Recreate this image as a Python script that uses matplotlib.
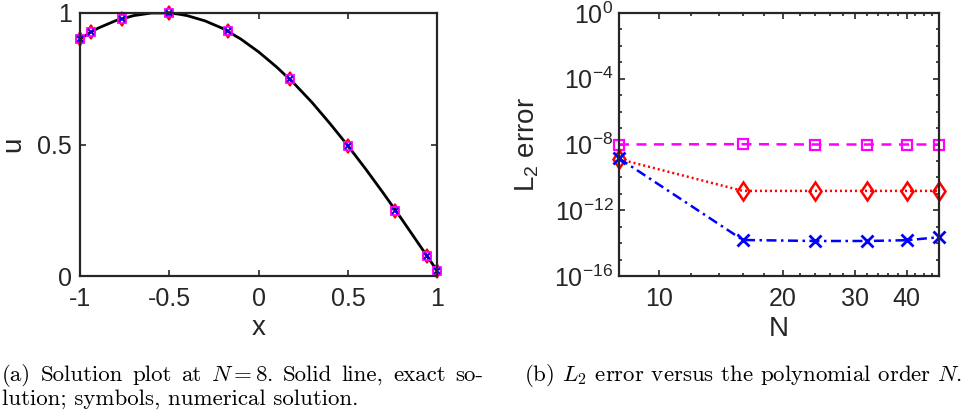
import matplotlib
matplotlib.use('Agg')
import matplotlib.pyplot as plt
from matplotlib.ticker import FixedLocator, NullFormatter

plt.rcParams['font.family'] = ['Liberation Sans', 'DejaVu Sans']

# exact solution
x_exact = [-1.0, -0.95, -0.9, -0.8, -0.7, -0.6, -0.55, -0.5, -0.45, -0.4, -0.3,
           -0.2, -0.1, 0.0, 0.1, 0.2, 0.3, 0.4, 0.5, 0.6, 0.7, 0.8, 0.9, 1.0]
u_exact = [0.900, 0.923, 0.942, 0.971, 0.990, 1.000, 1.000, 1.000, 0.996, 0.990, 0.970,
           0.941, 0.901, 0.852, 0.795, 0.731, 0.659, 0.579, 0.495, 0.406, 0.313, 0.217,
           0.118, 0.019]

# numerical solution at the nodes
x_nodes = [-1.0, -0.94, -0.766, -0.5, -0.174, 0.174, 0.5, 0.766, 0.94, 1.0]
u_nodes = [0.901, 0.928, 0.977, 1.000, 0.930, 0.749, 0.495, 0.249, 0.077, 0.019]

# L2 error vs N
N_vals = [8, 16, 24, 32, 40, 48]
err_sq = [1.0e-8, 1.05e-8, 1.0e-8, 1.0e-8, 1.0e-8, 1.0e-8]
err_dm = [1.3e-9, 1.5e-11, 1.5e-11, 1.5e-11, 1.5e-11, 1.5e-11]
err_x = [1.45e-9, 1.55e-14, 1.35e-14, 1.35e-14, 1.5e-14, 2.3e-14]

W, H = 963, 413
fig = plt.figure(figsize=(W / 100, H / 100), dpi=100)
axc = '#262626'

ax1 = fig.add_axes([80 / W, 1 - 276 / H, 357.3 / W, 263 / H])
ax2 = fig.add_axes([619 / W, 1 - 276 / H, 320.3 / W, 263 / H])

# (a) solution
ax1.plot(x_exact, u_exact, color='k', lw=2)
ax1.plot(x_nodes, u_nodes, 'd', ms=7.5, mfc='none', mec='r', mew=1.3, clip_on=False)
ax1.plot(x_nodes, u_nodes, 's', ms=6, mfc='none', mec='#ff00ff', mew=1.3, clip_on=False)
ax1.plot(x_nodes, u_nodes, 'x', ms=5, mec='b', mew=1.3, clip_on=False)
ax1.set_xlim(-1, 1)
ax1.set_ylim(0, 1)
ax1.set_xticks([-1, -0.5, 0, 0.5, 1])
ax1.set_xticklabels(['-1', '-0.5', '0', '0.5', '1'])
ax1.set_yticks([0, 0.5, 1])
ax1.set_yticklabels(['0', '0.5', '1'])
ax1.set_xlabel('x', fontsize=20, color=axc)
ax1.set_ylabel('u', fontsize=20, color=axc)
ax1.xaxis.label.set_va('center')
ax1.yaxis.label.set_va('center')
ax1.xaxis.set_label_coords(0.5, -0.196)
ax1.yaxis.set_label_coords(-0.186, 0.5)

# (b) error
ax2.loglog(N_vals, err_sq, color='#ff00ff', lw=1.8, dashes=(4, 3),
           marker='s', ms=7, mfc='none', mew=1.6, clip_on=False)
ax2.loglog(N_vals, err_dm, color='r', lw=1.8, dashes=(0.8, 1.2),
           marker='d', ms=9.5, mfc='none', mew=1.8, clip_on=False)
ax2.loglog(N_vals, err_x, color='b', lw=1.8, dashes=(4, 1.8, 1, 1.8),
           marker='x', ms=8, mew=2, clip_on=False)
ax2.set_xlim(8, 48)
ax2.set_ylim(1e-16, 1)
ax2.xaxis.set_major_locator(FixedLocator([10, 20, 30, 40]))
ax2.xaxis.set_minor_locator(FixedLocator([8, 12, 14, 16, 18, 22, 24, 26, 28, 32,
                                          34, 36, 38, 42, 44, 46, 48]))
ax2.set_xticklabels(['10', '20', '30', '40'])
ax2.xaxis.set_minor_formatter(NullFormatter())
ax2.yaxis.set_major_locator(FixedLocator([1e-16, 1e-12, 1e-8, 1e-4, 1]))
ax2.yaxis.set_minor_locator(FixedLocator([10.0 ** -k for k in range(17)]))
ax2.set_yticklabels([r'$\mathregular{10^{-16}}$', r'$\mathregular{10^{-12}}$',
                     r'$\mathregular{10^{-8}}$', r'$\mathregular{10^{-4}}$',
                     r'$\mathregular{10^{0}}$'])
ax2.yaxis.set_minor_formatter(NullFormatter())
ax2.set_xlabel('N', fontsize=20, color=axc)
ax2.set_ylabel(r'$\mathregular{L_2}$ error', fontsize=20, color=axc)
ax2.xaxis.label.set_va('center')
ax2.yaxis.label.set_va('center')
ax2.xaxis.set_label_coords(0.5, -0.2)
ax2.yaxis.set_label_coords(-0.287, 0.5)

for ax in (ax1, ax2):
    ax.tick_params(which='both', direction='in', top=True, right=True,
                   colors=axc, labelsize=18, width=1.2)
    ax.tick_params(which='major', length=4, pad=6)
    ax.tick_params(which='minor', length=2.2)
    ax.tick_params(axis='x', which='major', pad=8)
    for s in ax.spines.values():
        s.set_linewidth(1.6)
        s.set_color(axc)
ax2.tick_params(axis='y', pad=4)

# captions
cap = dict(family='cmr10', math_fontfamily='cm', fontsize=16.5, va='baseline')


def justified(words, x0, x1, y):
    r = fig.canvas.get_renderer()
    arts = [fig.text(0, y, w, **cap) for w in words]
    widths = [a.get_window_extent(r).width for a in arts]
    gap = (x1 - x0 - sum(widths)) / (len(words) - 1)
    x = x0
    for a, w in zip(arts, widths):
        a.set_x(x / W)
        x += w + gap


justified(['(a)', 'Solution', 'plot', 'at', r'$N=8$.', 'Solid', 'line,',
           'exact', 'so-'], 2, 483, 1 - 381 / H)
fig.text(2 / W, 1 - 405 / H, 'lution; symbols, numerical solution.', **cap)
fig.text(524 / W, 1 - 381 / H, r'(b) $L_2$ error versus the polynomial order $N$.',
         **cap)

fig.savefig('out.png', dpi=100)
